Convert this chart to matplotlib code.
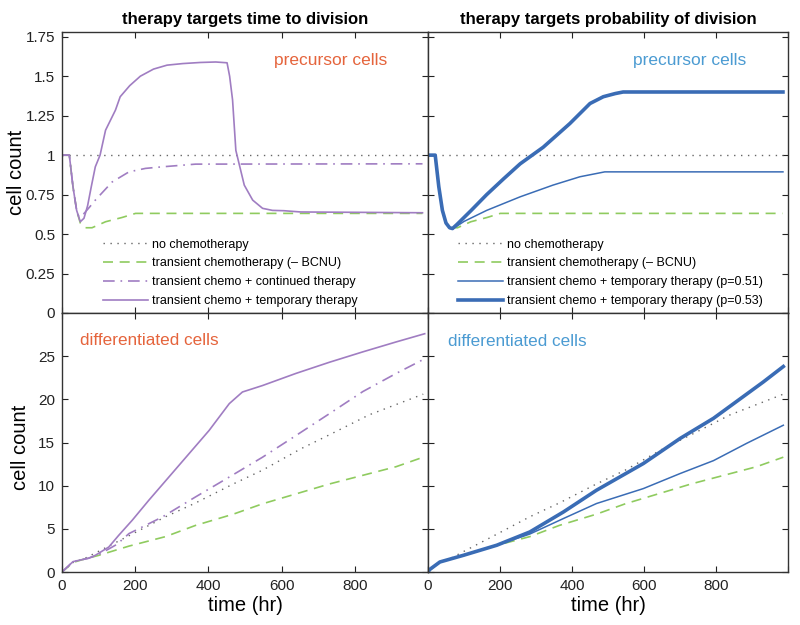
import numpy as np
import matplotlib
matplotlib.use('Agg')
import matplotlib.pyplot as plt

plt.rcParams['font.family'] = ['Liberation Sans', 'DejaVu Sans']

# ---- data (time in hr) ----
# precursor cells, therapy targets time to division
t_pre_none = [0, 985]
y_pre_none = [1, 1]
t_pre_chemo = [0, 20, 25, 30, 40, 50, 64, 82, 119, 164, 201, 985]
y_pre_chemo = [1, 1, 0.9, 0.8, 0.65, 0.57, 0.54, 0.54, 0.578, 0.605, 0.631, 0.631]
t_pre_cont = [0, 20, 25, 30, 40, 46, 60, 75, 91, 137, 183, 228, 274, 365, 985]
y_pre_cont = [1, 1, 0.9, 0.8, 0.65, 0.61, 0.63, 0.67, 0.715, 0.83, 0.894, 0.916, 0.926, 0.943, 0.945]
t_pre_temp = [0, 20, 25, 30, 40, 50, 60, 70, 80, 91, 104, 119, 146, 159, 185, 214, 250, 287,
              330, 378, 420, 451, 458, 466, 475, 498, 521, 548, 575, 606, 652, 985]
y_pre_temp = [1, 1, 0.9, 0.8, 0.65, 0.578, 0.6, 0.68, 0.8, 0.926, 1.0, 1.158, 1.285, 1.37, 1.44,
              1.50, 1.545, 1.57, 1.58, 1.587, 1.59, 1.585, 1.5, 1.35, 1.03, 0.81, 0.715, 0.663,
              0.65, 0.648, 0.64, 0.635]

# precursor cells, therapy targets probability of division
t_pre_p51 = [0, 20, 25, 30, 40, 50, 60, 70, 100, 163, 256, 347, 422, 491, 986]
y_pre_p51 = [1, 1, 0.9, 0.8, 0.65, 0.57, 0.54, 0.535, 0.58, 0.65, 0.736, 0.81, 0.863, 0.894, 0.894]
t_pre_p53 = [0, 20, 25, 30, 40, 50, 60, 68, 80, 120, 163, 210, 256, 320, 394, 450, 487, 520, 542, 986]
y_pre_p53 = [1, 1, 0.9, 0.8, 0.65, 0.57, 0.54, 0.535, 0.56, 0.65, 0.75, 0.85, 0.945, 1.05, 1.20,
             1.327, 1.37, 1.39, 1.40, 1.40]

# differentiated cells
t_dif_none = [0, 30, 61, 183, 283, 365, 468, 548, 654, 731, 839, 987]
y_dif_none = [0, 1.1, 1.55, 4.2, 6.4, 8.0, 10.2, 11.8, 14.3, 15.9, 18.2, 20.6]
t_dif_chemo = [0, 30, 61, 98, 183, 283, 365, 468, 548, 731, 913, 987]
y_dif_chemo = [0, 1.1, 1.5, 1.9, 3.0, 4.1, 5.4, 6.7, 7.9, 10.2, 12.2, 13.3]
t_dif_cont = [0, 30, 73, 104, 150, 183, 274, 365, 457, 548, 639, 731, 822, 913, 991]
y_dif_cont = [0, 1.2, 1.6, 2.1, 3.2, 4.45, 6.37, 8.7, 11.0, 13.3, 15.8, 18.35, 20.9, 23.0, 24.7]
t_dif_temp = [0, 30, 73, 91, 128, 155, 192, 237, 292, 347, 402, 457, 493, 548, 639, 731, 822, 913, 991]
y_dif_temp = [0, 1.2, 1.6, 1.93, 2.9, 4.25, 6.0, 8.3, 11.0, 13.7, 16.4, 19.5, 20.85, 21.6, 23.0,
              24.3, 25.5, 26.65, 27.6]
t_dif_p51 = [0, 5, 33, 98, 191, 283, 376, 468, 598, 700, 793, 885, 987]
y_dif_p51 = [0, 0.3, 1.16, 1.93, 3.1, 4.4, 6.19, 7.93, 9.66, 11.4, 12.9, 14.9, 17.0]
t_dif_p53 = [0, 5, 33, 98, 191, 283, 376, 468, 598, 700, 793, 931, 987]
y_dif_p53 = [0, 0.3, 1.16, 1.93, 3.1, 4.64, 6.95, 9.47, 12.56, 15.46, 17.8, 22.0, 23.8]

labels_left = ['no chemotherapy', 'transient chemotherapy (\u2013 BCNU)',
               'transient chemo + continued therapy', 'transient chemo + temporary therapy']
labels_right = ['no chemotherapy', 'transient chemotherapy (\u2013 BCNU)',
                'transient chemo + temporary therapy (p=0.51)',
                'transient chemo + temporary therapy (p=0.53)']

# ---- styles ----
c_gray = '#666666'
c_green = '#8fcb5f'
c_purple = '#a07dc2'
c_blue = '#3a6cb5'
c_orange = '#e5643c'
c_lblue = '#4b9bd2'
dotted = (0, (1, 4))
dashed = (0, (6, 4))
dashdot = (0, (7, 3.5, 1, 3.5))

fig = plt.figure(figsize=(8, 6.25), dpi=100)
ax_tl = fig.add_axes([0.0775, 0.4992, 0.4575, 0.4496])
ax_tr = fig.add_axes([0.535, 0.4992, 0.45, 0.4496])
ax_bl = fig.add_axes([0.0775, 0.0848, 0.4575, 0.4144])
ax_br = fig.add_axes([0.535, 0.0848, 0.45, 0.4144])

# top left
ax_tl.plot(t_pre_none, y_pre_none, color=c_gray, ls=dotted, lw=1)
ax_tl.plot(t_pre_chemo, y_pre_chemo, color=c_green, ls=dashed, lw=1.2)
ax_tl.plot(t_pre_cont, y_pre_cont, color=c_purple, ls=dashdot, lw=1.2)
ax_tl.plot(t_pre_temp, y_pre_temp, color=c_purple, lw=1.2)

# top right
ax_tr.plot(t_pre_none, y_pre_none, color=c_gray, ls=dotted, lw=1)
ax_tr.plot(t_pre_chemo, y_pre_chemo, color=c_green, ls=dashed, lw=1.2)
ax_tr.plot(t_pre_p51, y_pre_p51, color=c_blue, lw=1.1)
ax_tr.plot(t_pre_p53, y_pre_p53, color=c_blue, lw=2.6)

# bottom left
ax_bl.plot(t_dif_none, y_dif_none, color=c_gray, ls=dotted, lw=1)
ax_bl.plot(t_dif_chemo, y_dif_chemo, color=c_green, ls=dashed, lw=1.2)
ax_bl.plot(t_dif_cont, y_dif_cont, color=c_purple, ls=dashdot, lw=1.2)
ax_bl.plot(t_dif_temp, y_dif_temp, color=c_purple, lw=1.2)

# bottom right
ax_br.plot(t_dif_none, y_dif_none, color=c_gray, ls=dotted, lw=1)
ax_br.plot(t_dif_chemo, y_dif_chemo, color=c_green, ls=dashed, lw=1.2)
ax_br.plot(t_dif_p51, y_dif_p51, color=c_blue, lw=1.1)
ax_br.plot(t_dif_p53, y_dif_p53, color=c_blue, lw=2.6)

for ax in [ax_tl, ax_tr, ax_bl, ax_br]:
    ax.set_xlim(0, 1000)
    ax.set_xticks([0, 200, 400, 600, 800, 1000])
    ax.set_xticklabels(['0', '200', '400', '600', '800', ''])
    ax.tick_params(direction='in', top=True, right=True, length=4, width=0.8,
                   labelsize=11, colors='#222222', pad=5)
    for s in ax.spines.values():
        s.set_color('#333333')
        s.set_linewidth(1)

for ax in [ax_tl, ax_tr]:
    ax.set_ylim(0, 1.78)
    ax.set_yticks([0, 0.25, 0.5, 0.75, 1, 1.25, 1.5, 1.75])
    ax.set_xticklabels([])
ax_tl.set_yticklabels(['0', '0.25', '0.5', '0.75', '1', '1.25', '1.5', '1.75'])

for ax in [ax_bl, ax_br]:
    ax.set_ylim(0, 30)
    ax.set_yticks([0, 5, 10, 15, 20, 25, 30])
    ax.set_xlabel('time (hr)', fontsize=14.5, labelpad=2)
ax_bl.set_yticklabels(['0', '5', '10', '15', '20', '25', ''])
ax_tr.set_yticklabels([])
ax_br.set_yticklabels([])

fig.text(0.021, 1 - 172 / 625, 'cell count', rotation=90, fontsize=14.5, ha='center', va='center')
fig.text(0.026, 1 - 447 / 625, 'cell count', rotation=90, fontsize=14.5, ha='center', va='center')

ax_tl.set_title('therapy targets time to division', fontsize=12, fontweight='bold', pad=6)
ax_tr.set_title('therapy targets probability of division', fontsize=12, fontweight='bold', pad=6)

ax_tl.text(0.58, 0.90, 'precursor cells', transform=ax_tl.transAxes, fontsize=12.5,
           color=c_orange, va='center')
ax_tr.text(0.57, 0.90, 'precursor cells', transform=ax_tr.transAxes, fontsize=12.5,
           color=c_lblue, va='center')
ax_bl.text(0.05, 0.895, 'differentiated cells', transform=ax_bl.transAxes, fontsize=12.3,
           color=c_orange, va='center')
ax_br.text(0.055, 0.89, 'differentiated cells', transform=ax_br.transAxes, fontsize=12.3,
           color=c_lblue, va='center')

leg_kw = dict(loc='upper left', frameon=False, fontsize=9, handlelength=3.6,
              handletextpad=0.35, labelspacing=0.55, borderpad=0, borderaxespad=0)
ax_tl.legend(ax_tl.get_lines(), labels_left, bbox_to_anchor=(0.112, 0.265), **leg_kw)
ax_tr.legend(ax_tr.get_lines(), labels_right, bbox_to_anchor=(0.083, 0.265), **leg_kw)

plt.savefig('out.png', dpi=100)
